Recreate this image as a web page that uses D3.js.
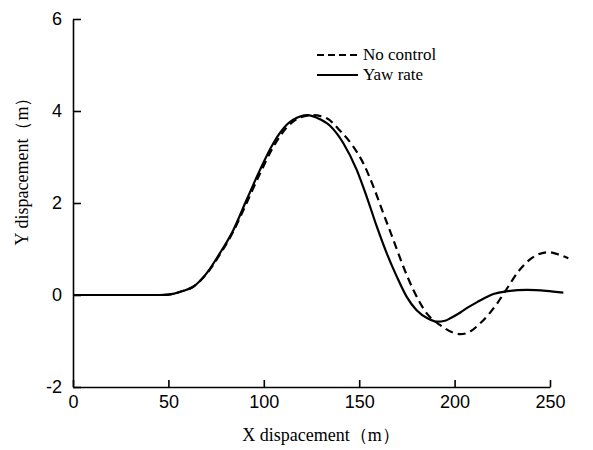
<!DOCTYPE html>
<html>
<head>
<meta charset="utf-8">
<script src="https://cdn.jsdelivr.net/npm/d3@7"></script>
<style>
  body { margin: 0; background: #fff; }
  .axis path, .axis line { stroke: #000; stroke-width: 1.6; }
  .axis text { font-family: "Liberation Sans", Arial, sans-serif; font-size: 18px; fill: #000; }
  .title { font-family: "Liberation Serif", "Times New Roman", serif; font-size: 18px; fill: #000; }
</style>
</head>
<body>
<div id="chart"></div>
<script>
// data
var noControlX = [0, 40, 45, 50, 53, 57, 63, 70, 77, 84, 91, 98, 105, 112, 119, 125.8, 133, 140, 147, 152.2, 157.4, 162.6, 167.9, 173.1, 178.4, 185.4, 192.3, 199.3, 203, 206.3, 213.3, 222, 227.3, 233.4, 240.4, 249.1, 255.2, 259.6];
var noControlY = [0, 0, 0, 0.01, 0.03, 0.08, 0.18, 0.46, 0.88, 1.38, 2.0, 2.64, 3.22, 3.64, 3.86, 3.91, 3.84, 3.57, 3.22, 2.86, 2.36, 1.78, 1.2, 0.62, 0.11, -0.4, -0.65, -0.82, -0.85, -0.83, -0.62, -0.2, 0.13, 0.51, 0.8, 0.93, 0.87, 0.8];

var yawRateX = [0, 40, 45, 50, 53, 57, 63, 70, 77, 84, 91, 98, 105, 112, 119, 123, 128, 134.7, 141.7, 148.7, 153.9, 159.2, 164.4, 169.7, 174.9, 180.1, 186, 191, 195, 198, 203, 207, 212, 216, 220.3, 227, 238, 248, 257];
var yawRateY = [0, 0, 0, 0.01, 0.03, 0.08, 0.18, 0.47, 0.91, 1.41, 2.07, 2.72, 3.3, 3.7, 3.88, 3.91, 3.85, 3.68, 3.3, 2.72, 2.14, 1.49, 0.91, 0.4, -0.04, -0.33, -0.51, -0.58, -0.56, -0.5, -0.38, -0.27, -0.15, -0.06, 0.02, 0.08, 0.11, 0.09, 0.05];

var xTicks = [0, 50, 100, 150, 200, 250];
var yTicks = [-2, 0, 2, 4, 6];
var seriesNames = ['No control', 'Yaw rate'];

var svgWidth = 593, svgHeight = 450;
var margin = {top: 19, right: 43, bottom: 63, left: 73};
var width = svgWidth - margin.left - margin.right;
var height = svgHeight - margin.top - margin.bottom;

var svg = d3.select('#chart').append('svg')
    .attr('width', svgWidth).attr('height', svgHeight);

var g = svg.append('g')
    .attr('transform', 'translate(' + margin.left + ',' + margin.top + ')');

var x = d3.scaleLinear().domain([0, 250]).range([0, width]);
var y = d3.scaleLinear().domain([-2, 6]).range([height, 0]);

// axes, ticks pointing inwards, plain hyphen for negatives
g.append('g')
    .attr('class', 'axis')
    .attr('transform', 'translate(0,' + height + ')')
    .call(d3.axisBottom(x).tickValues(xTicks).tickFormat(String)
        .tickSizeInner(-7).tickSizeOuter(0).tickPadding(8));

g.append('g')
    .attr('class', 'axis')
    .call(d3.axisLeft(y).tickValues(yTicks).tickFormat(String)
        .tickSizeInner(-8).tickSizeOuter(0).tickPadding(11));

// lines
var line = d3.line()
    .x(function(d) { return x(d[0]); })
    .y(function(d) { return y(d[1]); })
    .curve(d3.curveMonotoneX);

var noControl = d3.zip(noControlX, noControlY);
var yawRate = d3.zip(yawRateX, yawRateY);

g.append('path')
    .datum(noControl)
    .attr('d', line)
    .attr('fill', 'none')
    .attr('stroke', '#000')
    .attr('stroke-width', 2.2)
    .attr('stroke-dasharray', '8,5');

g.append('path')
    .datum(yawRate)
    .attr('d', line)
    .attr('fill', 'none')
    .attr('stroke', '#000')
    .attr('stroke-width', 2.2);

// legend
var legend = svg.append('g').attr('transform', 'translate(317,55)');
seriesNames.forEach(function(name, i) {
    var row = legend.append('g').attr('transform', 'translate(0,' + (i * 20) + ')');
    row.append('line')
        .attr('x1', 0).attr('x2', 41).attr('y1', 0).attr('y2', 0)
        .attr('stroke', '#000').attr('stroke-width', 2)
        .attr('stroke-dasharray', i === 0 ? '7,4' : null);
    row.append('text')
        .attr('class', 'title')
        .attr('x', 46).attr('y', 5)
        .style('font-size', '17px')
        .text(name);
});

// axis titles
svg.append('text')
    .attr('class', 'title')
    .attr('x', 321).attr('y', 441)
    .attr('text-anchor', 'middle')
    .text('X dispacement（m）');

svg.append('text')
    .attr('class', 'title')
    .attr('transform', 'translate(28,167) rotate(-90)')
    .attr('text-anchor', 'middle')
    .text('Y dispacement（m）');
</script>
</body>
</html>
